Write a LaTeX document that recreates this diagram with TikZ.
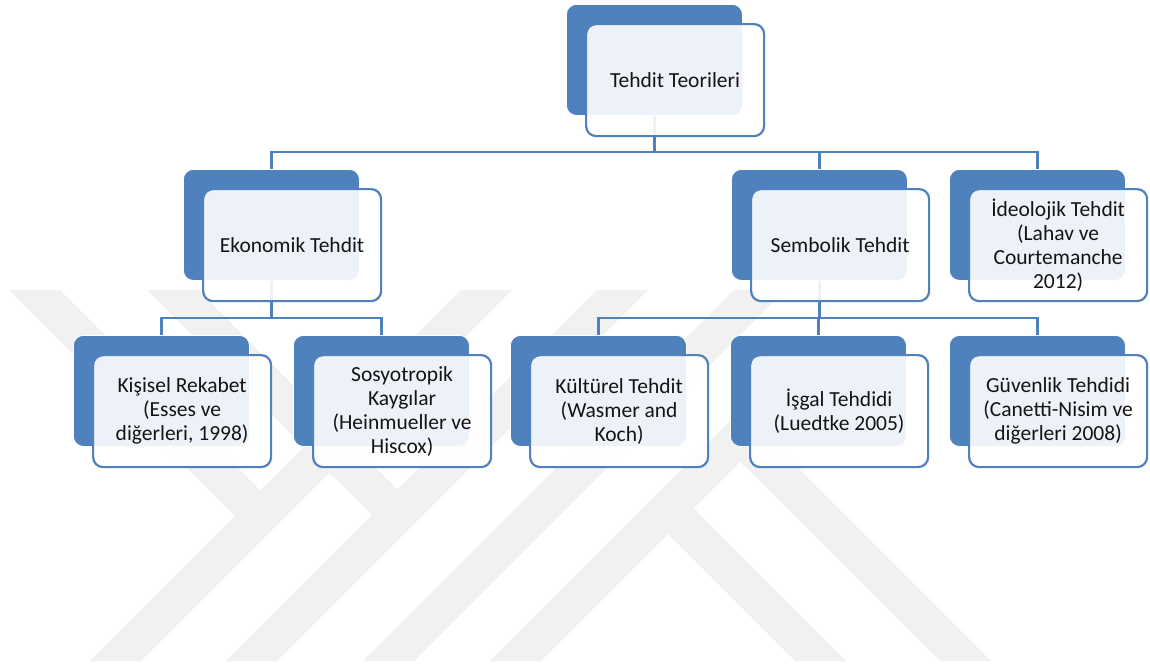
\documentclass[tikz,border=0pt]{standalone}
\usepackage{fontspec}
\setmainfont{Carlito}
\definecolor{accent}{HTML}{4F81BD}
\definecolor{wm}{HTML}{F1F1F1}
\pgfdeclarelayer{wmlayer}
\pgfdeclarelayer{lines}
\pgfsetlayers{wmlayer,lines,main}
\tikzset{
  backbox/.style={fill=accent, draw=white, line width=0.8pt, rounded corners=10pt,
    minimum width=176pt, minimum height=111pt, inner sep=0pt, anchor=north west},
  frontbox/.style={fill=white, fill opacity=0.9, text opacity=1, draw=accent,
    line width=2.2pt, rounded corners=10pt, minimum width=178pt, minimum height=112pt,
    inner sep=0pt, anchor=north west, align=center, text=black!92,
    font=\fontsize{21.5}{24}\selectfont},
  conn/.style={draw=accent, line width=2.3pt},
  band/.style={fill=wm, draw=none}
}
\begin{document}
\begin{tikzpicture}[x=1pt,y=-1pt]
\useasboundingbox (0,0) rectangle (1150,664);

% watermark
\begin{pgfonlayer}{wmlayer}
\fill[band] (9,290) -- (60,290) -- (286,516) -- (235,516) -- cycle;
\fill[band] (90,661) -- (141,661) -- (512,290) -- (461,290) -- cycle;
\fill[band] (147,290) -- (198,290) -- (423,515) -- (372,515) -- cycle;
\fill[band] (226,661) -- (277,661) -- (648,290) -- (597,290) -- cycle;
\fill[band] (363,661) -- (414,661) -- (785,290) -- (734,290) -- cycle;
\fill[band] (490,661) -- (740.5,410.5) -- (991,661) -- (940,661) -- (740.5,461.5) -- (541,661) -- cycle;
\fill[band] (795,661) -- (846,661) -- (673.5,488.5) -- (648,514) -- cycle;
\end{pgfonlayer}

% level 1
\node[backbox] (b0) at (566,4) {};
\node[frontbox] (f0) at (585,23) {Tehdit Teorileri};

% level 2
\node[backbox] (b1) at (183,169) {};
\node[frontbox] (f1) at (202,188) {Ekonomik Tehdit};
\node[backbox] (b2) at (731,169) {};
\node[frontbox] (f2) at (750,188) {Sembolik Tehdit};
\node[backbox] (b3) at (949,169) {};
\node[frontbox] (f3) at (968,188) {İdeolojik Tehdit\\(Lahav ve\\Courtemanche\\2012)};

% level 3
\node[backbox] (b4) at (73,335) {};
\node[frontbox] (f4) at (92,354) {Kişisel Rekabet\\(Esses ve\\diğerleri, 1998)};
\node[backbox] (b5) at (293,335) {};
\node[frontbox] (f5) at (312,354) {Sosyotropik\\Kaygılar\\(Heinmueller ve\\Hiscox)};
\node[backbox] (b6) at (510,335) {};
\node[frontbox] (f6) at (529,354) {Kültürel Tehdit\\(Wasmer and\\Koch)};
\node[backbox] (b7) at (730,335) {};
\node[frontbox] (f7) at (749,354) {İşgal Tehdidi\\(Luedtke 2005)};
\node[backbox] (b8) at (949,335) {};
\node[frontbox] (f8) at (968,354) {Güvenlik Tehdidi\\(Canetti-Nisim ve\\diğerleri 2008)};

\coordinate (bus1) at (0,152);
\coordinate (bus2) at (0,318);

\begin{pgfonlayer}{lines}
\draw[conn] (b0.south) -- (b0.south |- bus1) -| (b1.north);
\draw[conn] (b0.south) -- (b0.south |- bus1) -| (b2.north);
\draw[conn] (b0.south) -- (b0.south |- bus1) -| (b3.north);
\draw[conn] (b1.south) -- (b1.south |- bus2) -| (b4.north);
\draw[conn] (b1.south) -- (b1.south |- bus2) -| (b5.north);
\draw[conn] (b2.south) -- (b2.south |- bus2) -| (b6.north);
\draw[conn] (b2.south) -- (b2.south |- bus2) -| (b7.north);
\draw[conn] (b2.south) -- (b2.south |- bus2) -| (b8.north);
\end{pgfonlayer}
\end{tikzpicture}
\end{document}
